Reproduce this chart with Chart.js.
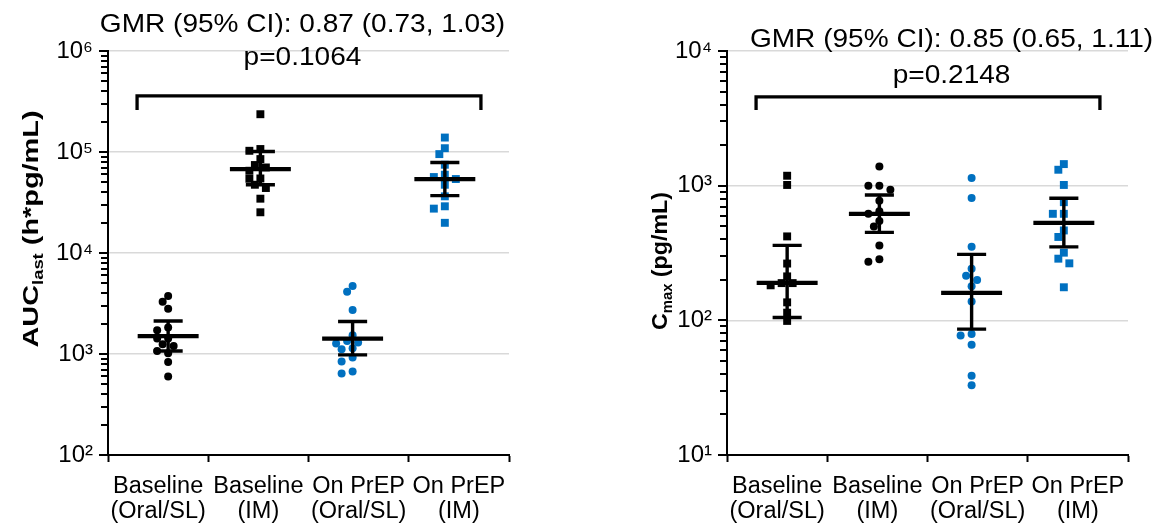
<!DOCTYPE html>
<html>
<head>
<meta charset="utf-8">
<script src="https://cdn.jsdelivr.net/npm/chart.js@4.4.1/dist/chart.umd.min.js"></script>
<style>
  html, body { margin: 0; padding: 0; background: #fff; }
  #wrap { position: relative; width: 1167px; height: 527px; }
  #aucChart { position: absolute; left: 0; top: 0; }
  #cmaxChart { position: absolute; left: 583px; top: 0; }
</style>
</head>
<body>
<div id="wrap">
  <canvas id="aucChart" width="583" height="527"></canvas>
  <canvas id="cmaxChart" width="584" height="527"></canvas>
</div>
<script>
// categories
var categories = [['Baseline', '(Oral/SL)'], ['Baseline', '(IM)'], ['On PrEP', '(Oral/SL)'], ['On PrEP', '(IM)']];

// AUClast (h*pg/mL), individual values per group
var aucBaseOral = [3750, 3300, 2810, 1830, 1720, 1420, 1420, 1250, 1200, 1070, 1020, 835, 600];
var aucBaseIM = [236600, 107000, 102800, 85100, 74300, 70300, 65200, 54700, 54300, 47400, 44000, 34500, 25300];
var aucPrepOral = [4700, 4140, 2720, 1535, 1345, 1297, 1270, 1140, 1115, 922, 843, 671, 641];
var aucPrepIM = [139000, 109000, 95300, 74800, 59600, 56500, 54000, 47400, 36400, 29000, 27500, 19900];
var aucMean = [1500, 67800, 1420, 54000];
var aucLow = [1070, 47400, 980, 37000];
var aucHigh = [2120, 101000, 2095, 78700];
var aucStats = ['GMR (95% CI): 0.87 (0.73, 1.03)', 'p=0.1064'];
var aucBracket = [2.6e5, 3.59e5];   // foot, top

// Cmax (pg/mL)
var cmaxBaseOral = [1185, 1012, 420, 264, 212, 189, 189, 182, 136, 114, 99];
var cmaxBaseIM = [1390, 1000, 1000, 934, 774, 647, 618, 546, 498, 360, 284, 272];
var cmaxPrepOral = [1140, 811, 352, 242, 214, 199, 179, 138, 79, 77, 66, 38.7, 32.9];
var cmaxPrepIM = [1446, 1313, 1012, 754, 618, 618, 465, 416, 318, 287, 265, 176];
var cmaxMean = [190, 618, 160, 530];
var cmaxLow = [105, 450, 86, 351];
var cmaxHigh = [360, 853, 309, 807];
var cmaxStats = ['GMR (95% CI): 0.85 (0.65, 1.11)', 'p=0.2148'];
var cmaxBracket = [3650, 4560];

var BLACK = '#000000';
var BLUE = '#0070C0';
var FONT = "'Liberation Sans', Arial, sans-serif";
var SUP = {'0':'\u2070','1':'\u00B9','2':'\u00B2','3':'\u00B3','4':'\u2074','5':'\u2075','6':'\u2076','7':'\u2077','8':'\u2078','9':'\u2079'};

// column centre on the 0..4 x axis
function colX(i) { return 0.6 + 0.92 * i; }

// simple dodge so overlapping markers sit side by side
function swarm(values, center, pxDecade) {
    var placed = [];
    var cand = [0, -5.5, 5.5, -11, 11, -16.5, 16.5];
    return values.map(function (v) {
        var py = Math.log10(v) * pxDecade;
        var dx = 0;
        for (var c = 0; c < cand.length; c++) {
            var ok = placed.every(function (p) { return Math.hypot(p[0] - cand[c], p[1] - py) >= 7.5; });
            if (ok) { dx = cand[c]; break; }
        }
        placed.push([dx, py]);
        return {x: center + dx / 100.25, y: v};
    });
}

function meanLines(mean) {
    var d = [];
    mean.forEach(function (m, i) {
        var c = colX(i);
        d.push({x: c - 0.304, y: m}, {x: c + 0.304, y: m}, {x: c, y: null});
    });
    return d;
}

function ciLines(lo, hi) {
    var d = [];
    lo.forEach(function (l, i) {
        var c = colX(i), h = hi[i];
        d.push({x: c - 0.145, y: h}, {x: c + 0.145, y: h}, {x: c, y: null});
        d.push({x: c - 0.145, y: l}, {x: c + 0.145, y: l}, {x: c, y: null});
        d.push({x: c, y: l}, {x: c, y: h}, {x: c, y: null});
    });
    return d;
}

function bracket(b) {
    return [{x: 0.29, y: b[0]}, {x: 0.29, y: b[1]}, {x: 3.72, y: b[1]}, {x: 3.72, y: b[0]}];
}

function pointSet(data, color, style) {
    return {
        data: data, showLine: false, pointStyle: style,
        pointRadius: style === 'rect' ? 5.6 : 4, pointHoverRadius: 4,
        backgroundColor: color, borderColor: color, borderWidth: 0
    };
}

function lineSet(data, width) {
    return {
        data: data, showLine: true, spanGaps: false, pointRadius: 0, pointHoverRadius: 0,
        borderColor: BLACK, borderWidth: width, backgroundColor: BLACK, tension: 0,
        borderCapStyle: 'butt', borderJoinStyle: 'miter'
    };
}

function supLabel(v) {
    var e = String(Math.round(Math.log10(v)));
    return '10' + e.split('').map(function (ch) { return SUP[ch]; }).join('');
}

// texts drawn on the canvas: stats above the bracket, the y title with subscript, y tick marks
var decor = {
    id: 'decor',
    afterDraw: function (chart, args, o) {
        var ctx = chart.ctx;
        var xs = chart.scales.x;
        var ys = chart.scales.y;
        var axisX = chart.chartArea.left;
        ctx.save();
        ctx.fillStyle = BLACK;
        var e0 = Math.round(Math.log10(ys.min)), e1 = Math.round(Math.log10(ys.max));
        for (var e = e0; e <= e1; e++) {
            for (var k = 1; k < 10; k++) {
                var v = k * Math.pow(10, e);
                if (v > ys.max * 1.0001) break;
                var py = Math.round(ys.getPixelForValue(v));
                var len = k === 1 ? 9 : 7;
                ctx.fillRect(axisX - len, py - 1, len, 2);
            }
        }
        ctx.textBaseline = 'alphabetic';
        ctx.textAlign = 'center';
        ctx.font = '25.5px ' + FONT;
        o.stats.forEach(function (t, i) {
            ctx.save();
            ctx.translate(xs.getPixelForValue(o.statX), o.statY[i]);
            ctx.scale(1.1, 1);
            ctx.fillText(t, 0, 0);
            ctx.restore();
        });
        // y title
        var parts = o.title;
        var total = 0;
        parts.forEach(function (p) {
            ctx.font = 'bold ' + p.size + 'px ' + FONT;
            p.w = ctx.measureText(p.t).width;
            total += p.w;
        });
        var s = o.titleLen / total;
        ctx.translate(o.titleX, o.titleY);
        ctx.rotate(-Math.PI / 2);
        ctx.scale(s, 1);
        ctx.textAlign = 'left';
        var x = -total / 2;
        parts.forEach(function (p) {
            ctx.font = 'bold ' + p.size + 'px ' + FONT;
            ctx.fillText(p.t, x, p.dy || 0);
            x += p.w;
        });
        ctx.restore();
    }
};

function makeChart(id, groups, styles, mean, lo, hi, br, yMin, yMax, yWidth, padRight, decorOpts) {
    var decades = Math.log10(yMax) - Math.log10(yMin);
    var pxDecade = (527 - 51 - 72) / decades;
    var datasets = [lineSet(meanLines(mean), 4.3), lineSet(ciLines(lo, hi), 3.4), lineSet(bracket(br), 3.3)];
    groups.forEach(function (g, i) {
        datasets.push(pointSet(swarm(g, colX(i), pxDecade), styles[i][0], styles[i][1]));
    });
    return new Chart(document.getElementById(id), {
        type: 'scatter',
        data: {datasets: datasets},
        options: {
            responsive: false,
            animation: false,
            devicePixelRatio: 1,
            layout: {padding: {top: 51, right: padRight, left: 0, bottom: 0}},
            plugins: {legend: {display: false}, tooltip: {enabled: false}, decor: decorOpts},
            scales: {
                x: {
                    type: 'linear', min: 0, max: 4,
                    afterBuildTicks: function (sc) {
                        var t = [];
                        for (var v = 0; v <= 4; v += 0.5) t.push({value: v});
                        sc.ticks = t;
                    },
                    afterFit: function (sc) { sc.height = 72; },
                    border: {color: BLACK, width: 2},
                    grid: {
                        drawOnChartArea: false, drawTicks: true, tickLength: 7, tickWidth: 2,
                        tickColor: function (c) { return Number.isInteger(c.tick.value) ? BLACK : 'rgba(0,0,0,0)'; }
                    },
                    ticks: {
                        autoSkip: false, maxRotation: 0, minRotation: 0, padding: 12,
                        color: BLACK, font: {family: FONT, size: 23.5, lineHeight: 1.07},
                        callback: function (v) { return Number.isInteger(v) ? '' : categories[Math.floor(v)]; }
                    }
                },
                y: {
                    type: 'logarithmic', min: yMin, max: yMax,
                    afterBuildTicks: function (sc) {
                        var t = [];
                        var e0 = Math.round(Math.log10(yMin)), e1 = Math.round(Math.log10(yMax));
                        for (var e = e0; e <= e1; e++) t.push({value: Math.pow(10, e)});
                        sc.ticks = t;
                    },
                    afterFit: function (sc) { sc.width = yWidth; },
                    border: {color: BLACK, width: 2},
                    grid: {
                        lineWidth: 1.5, drawTicks: true, tickLength: 9, tickWidth: 0,
                        color: function (c) {
                            var v = c.tick ? c.tick.value : 0;
                            return (v !== yMin) ? '#d9d9d9' : 'rgba(0,0,0,0)';
                        }
                    },
                    ticks: {
                        autoSkip: false, padding: 6, color: BLACK,
                        font: {family: FONT, size: 24},
                        callback: function (v) { return supLabel(v); }
                    }
                }
            }
        },
        plugins: [decor]
    });
}

makeChart('aucChart',
    [aucBaseOral, aucBaseIM, aucPrepOral, aucPrepIM],
    [[BLACK, 'circle'], [BLACK, 'rect'], [BLUE, 'circle'], [BLUE, 'rect']],
    aucMean, aucLow, aucHigh, aucBracket, 1e2, 1e6, 108, 74,
    {
        stats: aucStats, statX: 1.94, statY: [31.7, 65],
        title: [{t: 'AUC', size: 22}, {t: 'last', size: 14, dy: 5}, {t: ' (h*pg/mL)', size: 22}],
        titleX: 38, titleY: 229, titleLen: 237
    });

makeChart('cmaxChart',
    [cmaxBaseOral, cmaxBaseIM, cmaxPrepOral, cmaxPrepIM],
    [[BLACK, 'rect'], [BLACK, 'circle'], [BLUE, 'circle'], [BLUE, 'rect']],
    cmaxMean, cmaxLow, cmaxHigh, cmaxBracket, 1e1, 1e4, 144, 39,
    {
        stats: cmaxStats, statX: 2.24, statY: [46.7, 83.3],
        title: [{t: 'C', size: 22}, {t: 'max', size: 14, dy: 5}, {t: ' (pg/mL)', size: 22}],
        titleX: 84, titleY: 261, titleLen: 138
    });
</script>
</body>
</html>
